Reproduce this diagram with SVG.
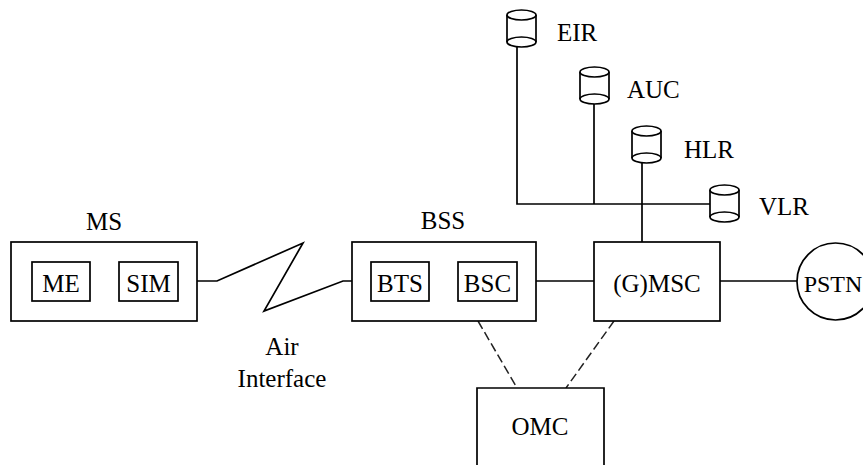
<svg xmlns="http://www.w3.org/2000/svg" xmlns:xlink="http://www.w3.org/1999/xlink" width="863" height="465" viewBox="0 0 863 465">
<style>
.box{fill:#fff;stroke:#000;stroke-width:1.7}
.ln{fill:none;stroke:#000;stroke-width:1.7}
.dash{fill:none;stroke:#222;stroke-width:1.5;stroke-dasharray:9,4}
text{font-family:"Liberation Serif","Times New Roman",serif;font-size:25px;fill:#000}
.c{text-anchor:middle}
</style>
<defs>
<g id="cyl">
<path class="box" d="M0,5 V32 A14.5,5 0 0 0 29,32 V5"/>
<ellipse class="box" cx="14.5" cy="5" rx="14.5" ry="5"/>
<path class="ln" d="M0,32 A14.5,5 0 0 1 29,32"/>
</g>
</defs>
<rect width="863" height="465" fill="#fff"/>
<g id="connectors">
<path class="ln" d="M517,47 V204 H710"/>
<path class="ln" d="M594,103 V204"/>
<path class="ln" d="M642,163 V242"/>
<path class="ln" d="M90,281 H119"/>
<path class="ln" d="M178,281 H217 L303,243 L264,311 L343,281 H371"/>
<path class="ln" d="M429,281 H458"/>
<path class="ln" d="M517,281 H594"/>
<path class="ln" d="M720,281 H797"/>
<path class="dash" d="M478,321 L517,388"/>
<path class="dash" d="M614,321 L566,388"/>
</g>
<g id="MS">
<rect class="box" x="11" y="242" width="186" height="79"/>
<text class="c" x="104" y="230">MS</text>
</g>
<g id="ME">
<rect class="box" x="32" y="262" width="58" height="39"/>
<text class="c" x="61" y="292">ME</text>
</g>
<g id="SIM">
<rect class="box" x="119" y="262" width="59" height="39"/>
<text class="c" x="148.5" y="292">SIM</text>
</g>
<g id="air">
<text class="c" x="282" y="355">Air</text>
<text class="c" x="282" y="387">Interface</text>
</g>
<g id="BSS">
<rect class="box" x="352" y="242" width="184" height="79"/>
<text class="c" x="443" y="229">BSS</text>
</g>
<g id="BTS">
<rect class="box" x="371" y="262" width="58" height="39"/>
<text class="c" x="400" y="292">BTS</text>
</g>
<g id="BSC">
<rect class="box" x="458" y="262" width="59" height="39"/>
<text class="c" x="487.5" y="292">BSC</text>
</g>
<g id="MSC">
<rect class="box" x="594" y="242" width="126" height="79"/>
<text class="c" x="657" y="292">(G)MSC</text>
</g>
<g id="PSTN">
<circle class="box" cx="835.5" cy="281.5" r="38.5"/>
<text class="c" x="833" y="292" style="font-size:24px">PSTN</text>
</g>
<g id="OMC">
<path class="box" d="M477,470 V388 H604 V470"/>
<text class="c" x="540" y="435">OMC</text>
</g>
<g id="EIR">
<use xlink:href="#cyl" x="507" y="10"/>
<text x="557" y="41">EIR</text>
</g>
<g id="AUC">
<use xlink:href="#cyl" x="580" y="67"/>
<text x="627" y="98">AUC</text>
</g>
<g id="HLR">
<use xlink:href="#cyl" x="632" y="126"/>
<text x="684" y="158">HLR</text>
</g>
<g id="VLR">
<use xlink:href="#cyl" x="710" y="185"/>
<text x="759" y="215">VLR</text>
</g>
</svg>
